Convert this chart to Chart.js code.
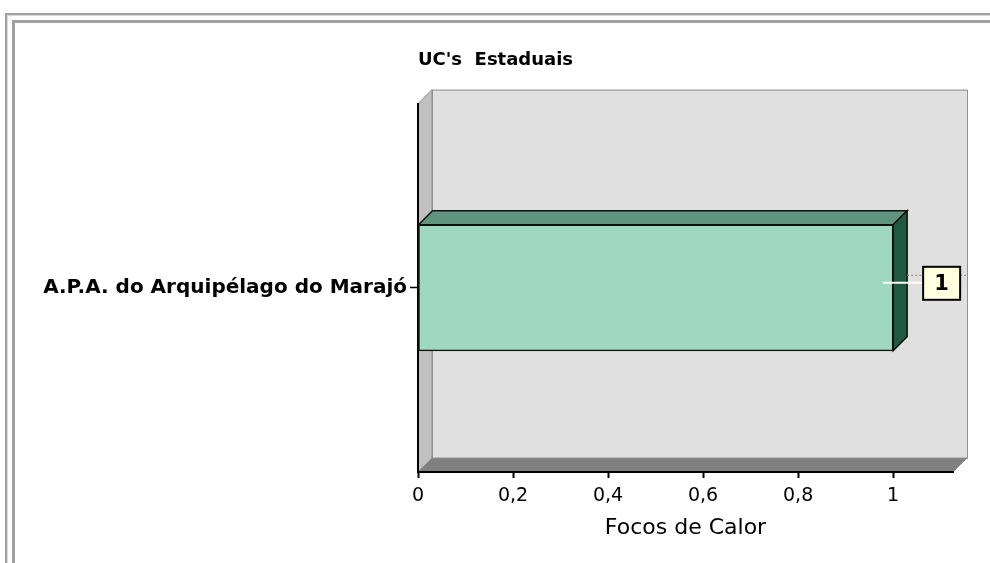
<!DOCTYPE html>
<html>
<head>
<meta charset="utf-8">
<script src="https://cdn.jsdelivr.net/npm/chart.js@4.4.1/dist/chart.umd.min.js"></script>
<style>
  html, body { margin: 0; padding: 0; background: #ffffff; }
  #wrap { width: 990px; height: 563px; position: relative; }
</style>
</head>
<body>
<div id="wrap"><canvas id="ucChart"></canvas></div>
<script>
// chart data
const categories = ['A.P.A. do Arquipélago do Marajó'];
const focos = [1];
const xTicks = [0, 0.2, 0.4, 0.6, 0.8, 1];
const xMax = 1.126;

const DEPTH = 14;
const FONT = '"DejaVu Sans", Verdana, sans-serif';

// draws the window frame, the 3D walls and floor behind the plot
const wallsPlugin = {
    id: 'walls',
    beforeDraw: (chart) => {
        const ctx = chart.ctx;
        const a = chart.chartArea;
        ctx.save();
        // frame
        ctx.fillStyle = '#a0a0a0';
        ctx.fillRect(5, 13, 990, 2);
        ctx.fillRect(5, 13, 2, 563);
        ctx.fillStyle = '#dcdcdc';
        ctx.fillRect(7, 15, 990, 1);
        ctx.fillRect(7, 15, 1, 563);
        ctx.fillStyle = '#a0a0a0';
        ctx.fillRect(12, 20, 990, 3);
        ctx.fillRect(12, 20, 3, 563);

        ctx.lineWidth = 1;
        ctx.strokeStyle = '#909090';
        // back wall
        ctx.fillStyle = '#e0e0e0';
        ctx.fillRect(a.left + DEPTH, a.top - DEPTH, a.right - a.left, a.bottom - a.top);
        ctx.strokeRect(a.left + DEPTH + 0.5, a.top - DEPTH + 0.5, a.right - a.left, a.bottom - a.top);
        // left wall
        ctx.fillStyle = '#c0c0c0';
        ctx.beginPath();
        ctx.moveTo(a.left, a.bottom);
        ctx.lineTo(a.left + DEPTH, a.bottom - DEPTH);
        ctx.lineTo(a.left + DEPTH, a.top - DEPTH);
        ctx.lineTo(a.left, a.top);
        ctx.closePath();
        ctx.fill();
        ctx.stroke();
        // floor
        ctx.fillStyle = '#808080';
        ctx.beginPath();
        ctx.moveTo(a.left, a.bottom);
        ctx.lineTo(a.right, a.bottom);
        ctx.lineTo(a.right + DEPTH, a.bottom - DEPTH);
        ctx.lineTo(a.left + DEPTH, a.bottom - DEPTH);
        ctx.closePath();
        ctx.fill();
        ctx.stroke();
        ctx.restore();
    },
    // top and side faces of the bars plus the value box
    afterDatasetsDraw: (chart) => {
        const ctx = chart.ctx;
        const a = chart.chartArea;
        const meta = chart.getDatasetMeta(0);
        ctx.save();
        meta.data.forEach((bar, i) => {
            const top = bar.y - bar.height / 2;
            const bottom = bar.y + bar.height / 2;
            ctx.lineWidth = 1.5;
            ctx.strokeStyle = '#101010';
            ctx.fillStyle = '#5f957f';
            ctx.beginPath();
            ctx.moveTo(bar.base, top);
            ctx.lineTo(bar.base + DEPTH, top - DEPTH);
            ctx.lineTo(bar.x + DEPTH, top - DEPTH);
            ctx.lineTo(bar.x, top);
            ctx.closePath();
            ctx.fill();
            ctx.stroke();
            ctx.fillStyle = '#1f5843';
            ctx.beginPath();
            ctx.moveTo(bar.x, top);
            ctx.lineTo(bar.x + DEPTH, top - DEPTH);
            ctx.lineTo(bar.x + DEPTH, bottom - DEPTH);
            ctx.lineTo(bar.x, bottom);
            ctx.closePath();
            ctx.fill();
            ctx.stroke();

            // value label
            const bx = bar.x + 30;
            const by = bar.y - 21;
            const bw = 37;
            const bh = 33;
            ctx.lineWidth = 1;
            ctx.strokeStyle = '#808080';
            ctx.setLineDash([2, 2]);
            ctx.beginPath();
            ctx.moveTo(bar.x + DEPTH, by + 8.5);
            ctx.lineTo(bx, by + 8.5);
            ctx.moveTo(bx + bw, by + 8.5);
            ctx.lineTo(a.right + DEPTH, by + 8.5);
            ctx.stroke();
            ctx.setLineDash([]);
            ctx.strokeStyle = '#ffffff';
            ctx.lineWidth = 2;
            ctx.beginPath();
            ctx.moveTo(bar.x - 10, by + 16);
            ctx.lineTo(bx, by + 16);
            ctx.stroke();
            ctx.fillStyle = '#ffffe0';
            ctx.fillRect(bx, by, bw, bh);
            ctx.strokeStyle = '#000000';
            ctx.lineWidth = 2;
            ctx.strokeRect(bx, by, bw, bh);
            ctx.fillStyle = '#000000';
            ctx.font = 'bold 21px ' + FONT;
            ctx.textAlign = 'center';
            ctx.textBaseline = 'middle';
            ctx.fillText(String(focos[i]), bx + bw / 2, by + bh / 2 + 1);
        });
        ctx.restore();
    },
};

const ctx = document.getElementById('ucChart');
const ucChart = new Chart(ctx, {
    type: 'bar',
    data: {
        labels: categories,
        datasets: [
            {
                label: 'Focos de Calor',
                data: focos,
                backgroundColor: '#9fd8c2',
                borderColor: '#101010',
                borderWidth: 1.5,
                borderSkipped: false,
                barThickness: 126,
            },
        ],
    },
    options: {
        indexAxis: 'y',
        responsive: true,
        maintainAspectRatio: false,
        animation: false,
        layout: {
            padding: { top: 50, right: 37, bottom: 0, left: 0 },
        },
        plugins: {
            legend: { display: false },
            tooltip: { enabled: false },
            title: {
                display: true,
                text: "UC's  Estaduais",
                align: 'start',
                fullSize: false,
                color: '#000000',
                font: { family: FONT, size: 18, weight: 'bold', lineHeight: 1.2 },
                padding: { top: 0, bottom: 32 },
            },
        },
        scales: {
            x: {
                min: 0,
                max: xMax,
                afterBuildTicks: (scale) => {
                    scale.ticks = xTicks.map((v) => ({ value: v }));
                },
                afterFit: (scale) => {
                    scale.height = 91;
                },
                grid: {
                    drawOnChartArea: false,
                    drawTicks: true,
                    tickLength: 6,
                    tickWidth: 2,
                    tickColor: '#000000',
                },
                border: { display: true, color: '#000000', width: 2 },
                ticks: {
                    color: '#000000',
                    padding: 7,
                    font: { family: FONT, size: 19 },
                    callback: (v) => String(v).replace('.', ','),
                },
                title: {
                    display: true,
                    text: 'Focos de Calor',
                    color: '#000000',
                    font: { family: FONT, size: 22 },
                    padding: { top: 0, bottom: 22 },
                },
            },
            y: {
                afterFit: (scale) => {
                    scale.width = 418;
                },
                grid: {
                    offset: false,
                    drawOnChartArea: false,
                    tickLength: 8,
                    tickWidth: 1.5,
                    tickColor: '#000000',
                },
                border: { display: true, color: '#000000', width: 2 },
                ticks: {
                    color: '#000000',
                    padding: 3,
                    font: { family: FONT, size: 20, weight: 'bold' },
                },
            },
        },
    },
    plugins: [wallsPlugin],
});
</script>
</body>
</html>
